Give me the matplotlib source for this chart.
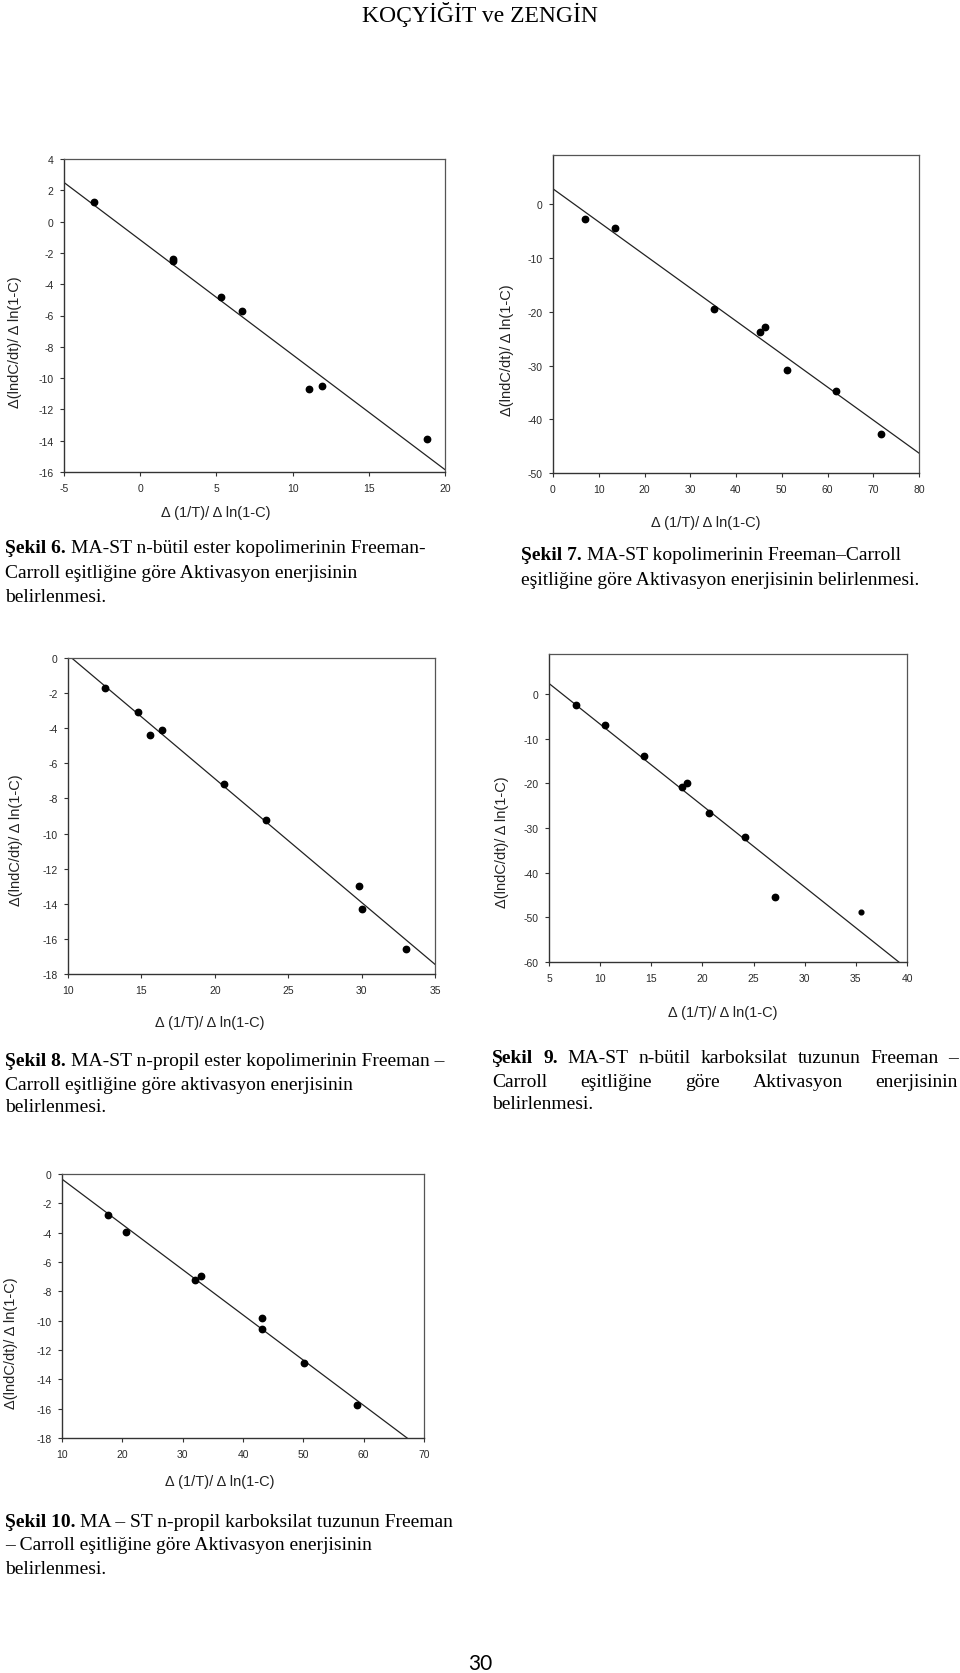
import numpy as np
import matplotlib
matplotlib.use('Agg')
import matplotlib.pyplot as plt
from matplotlib.transforms import IdentityTransform

plt.rcParams['axes.unicode_minus'] = False

W, H = 960, 1674
DPI = 100
SANS = ['Liberation Sans', 'DejaVu Sans']
SERIF = ['Liberation Serif', 'DejaVu Serif']

# Şekil 6
x6 = [-3.0, 2.15, 2.15, 5.3, 6.7, 11.1, 11.9, 18.8]
y6 = [1.25, -2.4, -2.5, -4.8, -5.7, -10.7, -10.5, -13.9]
fit6_x = [-5, 20]
fit6_y = [2.5, -15.85]

# Şekil 7
x7 = [7.1, 13.5, 35.2, 45.2, 46.4, 51.1, 61.8, 71.8]
y7 = [-2.8, -4.4, -19.4, -23.7, -22.8, -30.8, -34.7, -42.8]
fit7_x = [0, 80]
fit7_y = [2.9, -46.3]

# Şekil 8
x8 = [12.5, 14.8, 15.6, 16.4, 20.6, 23.5, 29.85, 30.05, 33.05]
y8 = [-1.7, -3.05, -4.4, -4.1, -7.15, -9.25, -13.0, -14.3, -16.55]
fit8_x = [10.25, 35]
fit8_y = [0, -17.45]

# Şekil 9
x9 = [7.6, 10.5, 14.3, 18.0, 18.5, 20.6, 24.2, 27.1, 35.5]
y9 = [-2.4, -6.9, -13.9, -20.9, -20.0, -26.7, -32.0, -45.4, -48.9]
fit9_x = [5, 39.2]
fit9_y = [2.4, -60]

# Şekil 10
x10 = [17.6, 20.65, 32.1, 33.0, 43.2, 43.2, 50.05, 58.9]
y10 = [-2.8, -3.95, -7.2, -6.95, -9.8, -10.55, -12.9, -15.75]
fit10_x = [10, 67.2]
fit10_y = [-0.35, -18]

XLABEL = 'Δ (1/T)/ Δ ln(1-C)'
YLABEL = 'Δ(lndC/dt)/ Δ ln(1-C)'

fig = plt.figure(figsize=(W / DPI, H / DPI), dpi=DPI)


def make_axes(left, top, right, bottom):
    return fig.add_axes([left / W, 1 - bottom / H, (right - left) / W, (bottom - top) / H])


def draw_panel(ax, xs, ys, fx, fy, xlim, ylim, xticks, yticks, xlab_pos, ylab_pos,
               small_last=False):
    ax.plot(fx, fy, color='#222222', lw=0.9, zorder=2)
    if small_last:
        ax.plot(xs[:-1], ys[:-1], 'o', color='black', ms=4.6, zorder=3)
        ax.plot(xs[-1:], ys[-1:], 'o', color='black', ms=3.4, zorder=3)
    else:
        ax.plot(xs, ys, 'o', color='black', ms=4.6, zorder=3)
    ax.set_xlim(*xlim)
    ax.set_ylim(*ylim)
    ax.set_xticks(xticks)
    ax.set_yticks(yticks)
    ax.tick_params(direction='out', length=3, width=0.8, color='#333333',
                   labelsize=7.5, labelcolor='#2a2a2a', top=False, right=False)
    ax.tick_params(axis='x', pad=5)
    ax.tick_params(axis='y', pad=4.5)
    for lab in ax.get_xticklabels() + ax.get_yticklabels():
        lab.set_family(SANS)
    for side in ['left', 'bottom']:
        ax.spines[side].set_color('#333333')
        ax.spines[side].set_linewidth(1.0)
    for side in ['top', 'right']:
        ax.spines[side].set_color('#555555')
        ax.spines[side].set_linewidth(0.9)
    ax.set_xlabel(XLABEL, family=SANS, fontsize=10.5, color='#222222')
    ax.set_ylabel(YLABEL, family=SANS, fontsize=10.5, color='#222222')
    ax.xaxis.set_label_coords(*xlab_pos)
    ax.yaxis.set_label_coords(*ylab_pos)
    ax.xaxis.label.set_va('center')
    ax.yaxis.label.set_va('center')


ax6 = make_axes(64, 160, 445, 473)
draw_panel(ax6, x6, y6, fit6_x, fit6_y, (-5, 20), (-16, 4),
           np.arange(-5, 21, 5), np.arange(-16, 5, 2), (0.399, -0.128), (-0.129, 0.419))

ax7 = make_axes(553, 156, 919, 474)
draw_panel(ax7, x7, y7, fit7_x, fit7_y, (0, 80), (-50, 9.2),
           np.arange(0, 81, 10), np.arange(-50, 1, 10), (0.417, -0.154), (-0.126, 0.388))

ax8 = make_axes(68, 659, 435, 975)
draw_panel(ax8, x8, y8, fit8_x, fit8_y, (10, 35), (-18, 0),
           np.arange(10, 36, 5), np.arange(-18, 1, 2), (0.386, -0.152), (-0.141, 0.428))

ax9 = make_axes(549, 655, 907, 963)
draw_panel(ax9, x9, y9, fit9_x, fit9_y, (5, 40), (-60, 9),
           np.arange(5, 41, 5), np.arange(-60, 1, 10), (0.485, -0.162), (-0.131, 0.392),
           small_last=True)

ax10 = make_axes(62, 1175, 424, 1439)
draw_panel(ax10, x10, y10, fit10_x, fit10_y, (10, 70), (-18, 0),
           np.arange(10, 71, 10), np.arange(-18, 1, 2), (0.437, -0.163), (-0.14, 0.364))

# ---- page text ----
renderer = fig.canvas.get_renderer()
CAP_FS = 14


def put(x, y, s, weight='normal'):
    return fig.text(x, H - y, s, transform=IdentityTransform(), family=SERIF,
                    fontsize=CAP_FS, weight=weight, va='baseline', ha='left')


def width(t):
    return t.get_window_extent(renderer).width


def measure(s):
    t = put(0, 0, s)
    w = width(t)
    t.remove()
    return w


space = measure('x x') - measure('xx')


def caption_line(x, y, words, right=None):
    arts = [put(x, y, w, wt) for w, wt in words]
    ws = [width(a) for a in arts]
    gap = space
    if right is not None and len(arts) > 1:
        gap = (right - x - sum(ws)) / (len(arts) - 1)
    cx = x
    for a, w in zip(arts, ws):
        a.set_position((cx, H - y))
        cx += w + gap


def caption(x, ys, label, lines, right=None, justify=()):
    for i, (y, line) in enumerate(zip(ys, lines)):
        if i in justify:
            words = [(w, 'normal') for w in line.split()]
            if i == 0:
                words = [(w, 'bold') for w in label.split()] + words
            caption_line(x, y, words, right)
        elif i == 0:
            b = put(x, y, label, 'bold')
            put(x + width(b) + space, y, line)
        else:
            put(x, y, line)


fig.text(480, H - 22, 'KOÇYİĞİT ve ZENGİN', transform=IdentityTransform(),
         family=SERIF, fontsize=17, ha='center', va='baseline')

caption(5, [553, 578, 602], 'Şekil 6.',
        ['MA-ST n-bütil ester kopolimerinin Freeman-',
         'Carroll eşitliğine göre Aktivasyon enerjisinin',
         'belirlenmesi.'])

caption(521, [560, 585], 'Şekil 7.',
        ['MA-ST kopolimerinin Freeman–Carroll',
         'eşitliğine göre Aktivasyon enerjisinin belirlenmesi.'])

caption(5, [1066, 1090, 1112], 'Şekil 8.',
        ['MA-ST n-propil ester kopolimerinin Freeman –',
         'Carroll eşitliğine göre aktivasyon enerjisinin',
         'belirlenmesi.'])

caption(492, [1063, 1087, 1109], 'Şekil 9.',
        ['MA-ST n-bütil karboksilat tuzunun Freeman –',
         'Carroll eşitliğine göre Aktivasyon enerjisinin',
         'belirlenmesi.'], right=958, justify=(0, 1))

caption(5, [1527, 1550, 1574], 'Şekil 10.',
        ['MA – ST n-propil karboksilat tuzunun Freeman',
         '– Carroll eşitliğine göre Aktivasyon enerjisinin',
         'belirlenmesi.'])

fig.text(480, H - 1670, '30', transform=IdentityTransform(),
         family=['Lato', 'DejaVu Sans'], fontsize=15, ha='center', va='baseline')

fig.savefig('out.png', dpi=DPI)
